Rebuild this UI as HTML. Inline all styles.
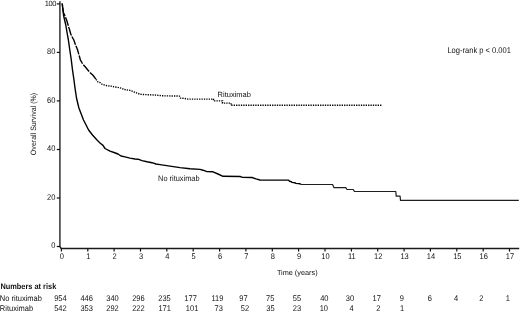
<!DOCTYPE html>
<html><head><meta charset="utf-8"><style>
html,body{margin:0;padding:0;background:#fff;}
body{width:520px;height:311px;overflow:hidden;-webkit-font-smoothing:antialiased;}
svg{display:block;-webkit-font-smoothing:antialiased;will-change:transform;}
.t{font-family:"Liberation Sans",sans-serif;font-size:7.5px;fill:#111;text-rendering:geometricPrecision;}
</style></head><body>
<svg width="520" height="311" viewBox="0 0 520 311">
<path d="M59.9 1.2 V247" fill="none" stroke="#4a4a4a" stroke-width="1.7"/>
<path d="M59.9 246.6 L61.2 248.4 H519.2" fill="none" stroke="#1a1a1a" stroke-width="1.5"/>
<line x1="56.8" y1="246.5" x2="60" y2="246.5" stroke="#111" stroke-width="1.2"/>
<text transform="translate(55.40 248.40) scale(1 1.1)" text-anchor="end" class="t" style="font-size:7.5px;">0</text>
<line x1="56.8" y1="198.0" x2="60" y2="198.0" stroke="#111" stroke-width="1.2"/>
<text transform="translate(55.40 199.88) scale(1 1.1)" text-anchor="end" class="t" style="font-size:7.5px;">20</text>
<line x1="56.8" y1="149.5" x2="60" y2="149.5" stroke="#111" stroke-width="1.2"/>
<text transform="translate(55.40 151.36) scale(1 1.1)" text-anchor="end" class="t" style="font-size:7.5px;">40</text>
<line x1="56.8" y1="100.9" x2="60" y2="100.9" stroke="#111" stroke-width="1.2"/>
<text transform="translate(55.40 102.84) scale(1 1.1)" text-anchor="end" class="t" style="font-size:7.5px;">60</text>
<line x1="56.8" y1="52.4" x2="60" y2="52.4" stroke="#111" stroke-width="1.2"/>
<text transform="translate(55.40 54.32) scale(1 1.1)" text-anchor="end" class="t" style="font-size:7.5px;">80</text>
<line x1="56.8" y1="3.9" x2="60" y2="3.9" stroke="#111" stroke-width="1.2"/>
<text x="55.9" y="6.0" text-anchor="end" class="t" style="font-size:7.5px;letter-spacing:-0.45px;">100</text>
<line x1="61.4" y1="248.4" x2="61.4" y2="251.6" stroke="#111" stroke-width="1.2"/>
<text transform="translate(61.90 258.80) scale(1 1.1)" text-anchor="middle" class="t" style="font-size:7.5px;">0</text>
<line x1="87.8" y1="248.4" x2="87.8" y2="251.6" stroke="#111" stroke-width="1.2"/>
<text transform="translate(88.26 258.80) scale(1 1.1)" text-anchor="middle" class="t" style="font-size:7.5px;">1</text>
<line x1="114.1" y1="248.4" x2="114.1" y2="251.6" stroke="#111" stroke-width="1.2"/>
<text transform="translate(114.62 258.80) scale(1 1.1)" text-anchor="middle" class="t" style="font-size:7.5px;">2</text>
<line x1="140.5" y1="248.4" x2="140.5" y2="251.6" stroke="#111" stroke-width="1.2"/>
<text transform="translate(140.98 258.80) scale(1 1.1)" text-anchor="middle" class="t" style="font-size:7.5px;">3</text>
<line x1="166.8" y1="248.4" x2="166.8" y2="251.6" stroke="#111" stroke-width="1.2"/>
<text transform="translate(167.34 258.80) scale(1 1.1)" text-anchor="middle" class="t" style="font-size:7.5px;">4</text>
<line x1="193.2" y1="248.4" x2="193.2" y2="251.6" stroke="#111" stroke-width="1.2"/>
<text transform="translate(193.70 258.80) scale(1 1.1)" text-anchor="middle" class="t" style="font-size:7.5px;">5</text>
<line x1="219.6" y1="248.4" x2="219.6" y2="251.6" stroke="#111" stroke-width="1.2"/>
<text transform="translate(220.06 258.80) scale(1 1.1)" text-anchor="middle" class="t" style="font-size:7.5px;">6</text>
<line x1="245.9" y1="248.4" x2="245.9" y2="251.6" stroke="#111" stroke-width="1.2"/>
<text transform="translate(246.42 258.80) scale(1 1.1)" text-anchor="middle" class="t" style="font-size:7.5px;">7</text>
<line x1="272.3" y1="248.4" x2="272.3" y2="251.6" stroke="#111" stroke-width="1.2"/>
<text transform="translate(272.78 258.80) scale(1 1.1)" text-anchor="middle" class="t" style="font-size:7.5px;">8</text>
<line x1="298.6" y1="248.4" x2="298.6" y2="251.6" stroke="#111" stroke-width="1.2"/>
<text transform="translate(299.14 258.80) scale(1 1.1)" text-anchor="middle" class="t" style="font-size:7.5px;">9</text>
<line x1="325.0" y1="248.4" x2="325.0" y2="251.6" stroke="#111" stroke-width="1.2"/>
<text transform="translate(325.50 258.80) scale(1 1.1)" text-anchor="middle" class="t" style="font-size:7.5px;">10</text>
<line x1="351.4" y1="248.4" x2="351.4" y2="251.6" stroke="#111" stroke-width="1.2"/>
<text transform="translate(351.86 258.80) scale(1 1.1)" text-anchor="middle" class="t" style="font-size:7.5px;">11</text>
<line x1="377.7" y1="248.4" x2="377.7" y2="251.6" stroke="#111" stroke-width="1.2"/>
<text transform="translate(378.22 258.80) scale(1 1.1)" text-anchor="middle" class="t" style="font-size:7.5px;">12</text>
<line x1="404.1" y1="248.4" x2="404.1" y2="251.6" stroke="#111" stroke-width="1.2"/>
<text transform="translate(404.58 258.80) scale(1 1.1)" text-anchor="middle" class="t" style="font-size:7.5px;">13</text>
<line x1="430.4" y1="248.4" x2="430.4" y2="251.6" stroke="#111" stroke-width="1.2"/>
<text transform="translate(430.94 258.80) scale(1 1.1)" text-anchor="middle" class="t" style="font-size:7.5px;">14</text>
<line x1="456.8" y1="248.4" x2="456.8" y2="251.6" stroke="#111" stroke-width="1.2"/>
<text transform="translate(457.30 258.80) scale(1 1.1)" text-anchor="middle" class="t" style="font-size:7.5px;">15</text>
<line x1="483.2" y1="248.4" x2="483.2" y2="251.6" stroke="#111" stroke-width="1.2"/>
<text transform="translate(483.66 258.80) scale(1 1.1)" text-anchor="middle" class="t" style="font-size:7.5px;">16</text>
<line x1="509.5" y1="248.4" x2="509.5" y2="251.6" stroke="#111" stroke-width="1.2"/>
<text transform="translate(510.02 258.80) scale(1 1.1)" text-anchor="middle" class="t" style="font-size:7.5px;">17</text>
<path d="M62.2 3.5 L63.0 10.0 L63.5 15.0 L64.6 20.0 L65.8 25.0 L66.6 30.0 L67.3 34.0 L68.4 40.0 L69.8 50.0 L71.3 60.0 L72.5 70.0 L73.7 78.0 L75.0 88.0 L76.5 98.0 L78.9 108.0 L81.6 115.0 L83.5 120.0 L86.1 125.0 L88.6 130.0 L92.5 135.0 L97.0 140.0 L100.0 143.0 L103.0 145.4 L105.0 148.5 L110.0 151.2 L114.0 152.5 L118.0 154.0 L121.0 156.0 L125.0 156.9 L130.0 158.1 L135.0 159.0 L138.0 159.2 L142.0 160.6 L147.0 161.8 L152.0 162.7 L156.0 164.0 L160.0 164.6 L170.0 166.1 L180.0 167.6 L190.0 168.8 L200.0 169.4 L203.0 170.2 L207.0 171.6 L213.0 171.8 L218.0 174.0 L223.0 176.3 L240.0 176.5 L242.0 177.2 L252.0 177.5 L256.0 178.9 L260.0 180.0 L288.6 180.1 L289.4 181.2 L291.2 181.6 L292.0 182.4 L295.0 182.8 L296.0 183.4 L300.0 183.7 L301.0 184.5" fill="none" stroke="#000" stroke-width="1.4" stroke-linejoin="round"/>
<path d="M301.0 184.5 L332.6 184.5 L334.0 187.7 L345.8 187.7 L347.0 189.5 L353.3 189.5 L354.4 191.5 L395.8 191.5 L396.2 196.1 L400.1 196.1 L400.5 200.4 L518.8 200.4" fill="none" stroke="#1e1e1e" stroke-width="1.2" stroke-linejoin="round"/>
<path d="M62.2 3.5 L63.0 10.0 L63.6 13.0 L64.6 15.0 L66.6 20.0 L68.1 25.0 L69.6 30.0 L70.8 34.0 L71.6 36.0 L73.8 40.0 L75.8 45.5 L77.6 50.0 L79.0 55.0 L80.4 60.0 L82.7 64.0 L85.4 67.0 L87.8 70.0 L90.2 72.8 L93.0 75.3 L96.0 79.3" fill="none" stroke="#000" stroke-width="1.4" stroke-dasharray="9 1.2" stroke-dashoffset="-4"/>
<path d="M96.0 79.3 L98.0 82.0 L100.0 82.6 L102.0 84.2 L105.0 85.2 L107.0 85.7 L112.0 86.3 L115.0 87.0 L119.0 87.6 L122.0 88.4 L124.0 89.5 L127.0 89.9 L130.0 90.4 L133.0 91.5 L137.0 93.1 L140.0 94.2 L145.0 94.6 L155.0 95.0 L163.0 95.8 L179.5 96.1 L180.5 98.1 L183.0 98.3 L186.0 98.7 L188.0 99.1 L213.5 99.1 L213.5 100.9 L222.5 100.9 L222.5 103.1 L231.0 103.1 L231.0 105.3 L381.8 105.3" fill="none" stroke="#000" stroke-width="1.4" stroke-dasharray="1.3 1.1"/>
<text transform="translate(447.40 52.50) scale(1 1.1)" class="t" style="font-size:7.55px;">Log-rank p &lt; 0.001</text>
<text x="217.6" y="96.6" class="t" style="font-size:7.5px">Rituximab</text>
<text transform="translate(158.10 181.20) scale(1 1.1)" class="t" style="font-size:7.4px;">No rituximab</text>
<text x="276.9" y="275.0" class="t" style="font-size:7.3px">Time (years)</text>
<text transform="translate(35.80 124.00) rotate(-90) scale(1 1.1)" text-anchor="middle" class="t" style="font-size:7.05px;">Overall Survival (%)</text>
<text transform="translate(0.40 288.80) scale(1 1.1)" class="t" style="font-size:7.4px;font-weight:bold;">Numbers at risk</text>
<text transform="translate(-0.20 300.60) scale(1 1.1)" class="t" style="font-size:7.5px;">No rituximab</text>
<text transform="translate(-0.20 310.70) scale(1 1.1)" class="t" style="font-size:7.5px;">Rituximab</text>
<text transform="translate(60.40 300.60) scale(1 1.1)" text-anchor="middle" class="t" style="font-size:7.5px;">954</text>
<text transform="translate(86.66 300.60) scale(1 1.1)" text-anchor="middle" class="t" style="font-size:7.5px;">446</text>
<text transform="translate(112.52 300.60) scale(1 1.1)" text-anchor="middle" class="t" style="font-size:7.5px;">340</text>
<text transform="translate(138.38 300.60) scale(1 1.1)" text-anchor="middle" class="t" style="font-size:7.5px;">296</text>
<text transform="translate(164.49 300.60) scale(1 1.1)" text-anchor="middle" class="t" style="font-size:7.5px;">235</text>
<text transform="translate(190.60 300.60) scale(1 1.1)" text-anchor="middle" class="t" style="font-size:7.5px;">177</text>
<text transform="translate(217.46 300.60) scale(1 1.1)" text-anchor="middle" class="t" style="font-size:7.5px;">119</text>
<text transform="translate(243.42 300.60) scale(1 1.1)" text-anchor="middle" class="t" style="font-size:7.5px;">97</text>
<text transform="translate(270.28 300.60) scale(1 1.1)" text-anchor="middle" class="t" style="font-size:7.5px;">75</text>
<text transform="translate(296.94 300.60) scale(1 1.1)" text-anchor="middle" class="t" style="font-size:7.5px;">55</text>
<text transform="translate(324.30 300.60) scale(1 1.1)" text-anchor="middle" class="t" style="font-size:7.5px;">40</text>
<text transform="translate(350.01 300.60) scale(1 1.1)" text-anchor="middle" class="t" style="font-size:7.5px;">30</text>
<text transform="translate(376.72 300.60) scale(1 1.1)" text-anchor="middle" class="t" style="font-size:7.5px;">17</text>
<text transform="translate(401.88 300.60) scale(1 1.1)" text-anchor="middle" class="t" style="font-size:7.5px;">9</text>
<text transform="translate(429.94 300.60) scale(1 1.1)" text-anchor="middle" class="t" style="font-size:7.5px;">6</text>
<text transform="translate(456.10 300.60) scale(1 1.1)" text-anchor="middle" class="t" style="font-size:7.5px;">4</text>
<text transform="translate(481.26 300.60) scale(1 1.1)" text-anchor="middle" class="t" style="font-size:7.5px;">2</text>
<text transform="translate(507.92 300.60) scale(1 1.1)" text-anchor="middle" class="t" style="font-size:7.5px;">1</text>
<text transform="translate(60.40 310.70) scale(1 1.1)" text-anchor="middle" class="t" style="font-size:7.5px;">542</text>
<text transform="translate(86.66 310.70) scale(1 1.1)" text-anchor="middle" class="t" style="font-size:7.5px;">353</text>
<text transform="translate(112.52 310.70) scale(1 1.1)" text-anchor="middle" class="t" style="font-size:7.5px;">292</text>
<text transform="translate(138.38 310.70) scale(1 1.1)" text-anchor="middle" class="t" style="font-size:7.5px;">222</text>
<text transform="translate(164.64 310.70) scale(1 1.1)" text-anchor="middle" class="t" style="font-size:7.5px;">171</text>
<text transform="translate(192.10 310.70) scale(1 1.1)" text-anchor="middle" class="t" style="font-size:7.5px;">101</text>
<text transform="translate(218.71 310.70) scale(1 1.1)" text-anchor="middle" class="t" style="font-size:7.5px;">73</text>
<text transform="translate(244.92 310.70) scale(1 1.1)" text-anchor="middle" class="t" style="font-size:7.5px;">52</text>
<text transform="translate(270.43 310.70) scale(1 1.1)" text-anchor="middle" class="t" style="font-size:7.5px;">35</text>
<text transform="translate(296.94 310.70) scale(1 1.1)" text-anchor="middle" class="t" style="font-size:7.5px;">23</text>
<text transform="translate(323.80 310.70) scale(1 1.1)" text-anchor="middle" class="t" style="font-size:7.5px;">10</text>
<text transform="translate(351.56 310.70) scale(1 1.1)" text-anchor="middle" class="t" style="font-size:7.5px;">4</text>
<text transform="translate(378.22 310.70) scale(1 1.1)" text-anchor="middle" class="t" style="font-size:7.5px;">2</text>
<text transform="translate(402.18 310.70) scale(1 1.1)" text-anchor="middle" class="t" style="font-size:7.5px;">1</text>
</svg>
</body></html>
